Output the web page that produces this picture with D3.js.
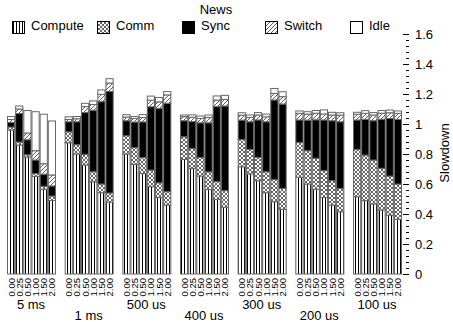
<!DOCTYPE html>
<html>
<head>
<meta charset="utf-8">
<script src="https://cdn.jsdelivr.net/npm/d3@7"></script>
<style>
  body { margin: 0; background: #fff; }
  svg { font-family: 'Liberation Sans', Arial, sans-serif; }
</style>
</head>
<body>
<svg id="chart" width="453" height="322"></svg>
<script>
const groups = ['5 ms', '1 ms', '500 us', '400 us', '300 us', '200 us', '100 us']
const ratios = ['0.00', '0.25', '0.50', '1.00', '1.50', '2.00']
const seriesNames = ['Compute', 'Comm', 'Sync', 'Switch', 'Idle']

// one row per group, one value per ratio
const compute = [
  [0.96, 0.86, 0.78, 0.65, 0.565, 0.49],
  [0.875, 0.8, 0.727, 0.615, 0.542, 0.48],
  [0.8, 0.73, 0.67, 0.582, 0.51, 0.46],
  [0.764, 0.705, 0.653, 0.563, 0.498, 0.445],
  [0.715, 0.667, 0.622, 0.542, 0.482, 0.431],
  [0.645, 0.6, 0.565, 0.511, 0.46, 0.415],
  [0.515, 0.489, 0.467, 0.427, 0.393, 0.365],
]
const comm = [
  [0.02, 0.02, 0.015, 0.02, 0.02, 0.03],
  [0.073, 0.062, 0.071, 0.067, 0.058, 0.06],
  [0.122, 0.113, 0.107, 0.111, 0.098, 0.089],
  [0.151, 0.133, 0.124, 0.118, 0.118, 0.111],
  [0.182, 0.164, 0.156, 0.14, 0.149, 0.14],
  [0.231, 0.222, 0.207, 0.178, 0.162, 0.156],
  [0.316, 0.304, 0.293, 0.278, 0.26, 0.235],
]
const sync = [
  [0.03, 0.19, 0.1, 0.09, 0.08, 0.067],
  [0.067, 0.153, 0.278, 0.41, 0.549, 0.677],
  [0.1, 0.17, 0.237, 0.422, 0.496, 0.589],
  [0.107, 0.178, 0.231, 0.327, 0.5, 0.564],
  [0.129, 0.184, 0.249, 0.333, 0.529, 0.562],
  [0.151, 0.204, 0.256, 0.338, 0.4, 0.444],
  [0.196, 0.238, 0.262, 0.327, 0.384, 0.431],
]
const swtch = [
  [0.02, 0.03, 0.045, 0.062, 0.07, 0.073],
  [0.015, 0.02, 0.04, 0.038, 0.049, 0.056],
  [0.024, 0.024, 0.029, 0.044, 0.044, 0.056],
  [0.027, 0.029, 0.029, 0.036, 0.044, 0.044],
  [0.033, 0.029, 0.033, 0.033, 0.044, 0.049],
  [0.044, 0.04, 0.044, 0.04, 0.038, 0.044],
  [0.038, 0.04, 0.038, 0.04, 0.038, 0.04],
]
const idle = [
  [0.02, 0.02, 0.15, 0.26, 0.33, 0.36],
  [0.018, 0.015, 0.022, 0.024, 0.029, 0.029],
  [0.016, 0.013, 0.02, 0.027, 0.029, 0.022],
  [0.011, 0.016, 0.016, 0.016, 0.027, 0.027],
  [0.016, 0.016, 0.016, 0.018, 0.033, 0.033],
  [0.016, 0.016, 0.018, 0.027, 0.018, 0.016],
  [0.013, 0.018, 0.016, 0.018, 0.018, 0.016],
]
const yTicks = [0, 0.2, 0.4, 0.6, 0.8, 1, 1.2, 1.4, 1.6]

const svg = d3.select('#chart')

// fill patterns
const defs = svg.append('defs')
const pCompute = defs.append('pattern').attr('id', 'pCompute')
  .attr('patternUnits', 'userSpaceOnUse').attr('width', 3).attr('height', 3)
pCompute.append('rect').attr('width', 3).attr('height', 3).attr('fill', '#fff')
pCompute.append('rect').attr('x', 1).attr('width', 1).attr('height', 3).attr('fill', '#000')

const pComm = defs.append('pattern').attr('id', 'pComm')
  .attr('patternUnits', 'userSpaceOnUse').attr('width', 4).attr('height', 4)
pComm.append('rect').attr('width', 4).attr('height', 4).attr('fill', '#fff')
pComm.append('path').attr('d', 'M0,0L4,4M4,0L0,4').attr('stroke', '#555').attr('stroke-width', 0.9)

const pSwitch = defs.append('pattern').attr('id', 'pSwitch')
  .attr('patternUnits', 'userSpaceOnUse').attr('width', 4).attr('height', 4)
pSwitch.append('rect').attr('width', 4).attr('height', 4).attr('fill', '#fff')
pSwitch.append('path').attr('d', 'M-1,1L1,-1M0,4L4,0M3,5L5,3').attr('stroke', '#333').attr('stroke-width', 0.8)

const fills = {
  Compute: 'url(#pCompute)',
  Comm: 'url(#pComm)',
  Sync: '#000',
  Switch: 'url(#pSwitch)',
  Idle: '#fff',
}

// flat table for d3.stack
const table = []
groups.forEach((g, gi) => {
  ratios.forEach((r, ri) => {
    table.push({
      group: g,
      ratio: r,
      Compute: compute[gi][ri],
      Comm: comm[gi][ri],
      Sync: sync[gi][ri],
      Switch: swtch[gi][ri],
      Idle: idle[gi][ri],
    })
  })
})
const stacked = d3.stack().keys(seriesNames)(table)

const x0 = d3.scaleBand().domain(groups).range([7, 401]).paddingInner(0.168).paddingOuter(0)
const x1 = d3.scaleBand().domain(ratios).range([0, x0.bandwidth()]).paddingInner(0.12)
const y = d3.scaleLinear().domain([0, 1.6]).range([274, 34])

// bars
const layer = svg.append('g')
stacked.forEach((s) => {
  layer.append('g')
    .selectAll('rect')
    .data(s)
    .join('rect')
    .attr('x', (d) => x0(d.data.group) + x1(d.data.ratio) + 0.5)
    .attr('y', (d) => y(d[1]))
    .attr('width', x1.bandwidth())
    .attr('height', (d) => y(d[0]) - y(d[1]))
    .attr('fill', fills[s.key])
    .attr('stroke', '#666')
    .attr('stroke-width', 1)
})

// x tick labels (rotated)
const xl = svg.append('g').attr('font-size', 9.5).attr('fill', '#000')
groups.forEach((g) => {
  ratios.forEach((r) => {
    const cx = x0(g) + x1(r) + x1.bandwidth() / 2 + 0.5
    xl.append('text')
      .attr('transform', `translate(${cx + 3.5},278) rotate(-90)`)
      .attr('text-anchor', 'end')
      .text(r)
  })
})

// group labels, staggered on two rows
svg.append('g')
  .selectAll('text')
  .data(groups)
  .join('text')
  .attr('x', (d) => x0(d) + x0.bandwidth() / 2)
  .attr('y', (d, i) => (i % 2 === 0 ? 309 : 320))
  .attr('text-anchor', 'middle')
  .attr('font-size', 13)
  .text((d) => d)

// y axis on the right, ticks pointing in
const axisX = 409
const yAxis = svg.append('g')
yAxis.selectAll('line.minor')
  .data(d3.range(0, 1.6001, 0.04))
  .join('line')
  .attr('x1', axisX - 3).attr('x2', axisX)
  .attr('y1', (d) => Math.round(y(d)) + 0.5).attr('y2', (d) => Math.round(y(d)) + 0.5)
  .attr('stroke', '#000')
yAxis.selectAll('line.major')
  .data(yTicks)
  .join('line')
  .attr('x1', axisX - 6).attr('x2', axisX)
  .attr('y1', (d) => Math.round(y(d)) + 0.5).attr('y2', (d) => Math.round(y(d)) + 0.5)
  .attr('stroke', '#000')
yAxis.selectAll('text')
  .data(yTicks)
  .join('text')
  .attr('x', 415)
  .attr('y', (d) => y(d))
  .attr('dy', '0.35em')
  .attr('font-size', 13)
  .text((d) => d3.format('~g')(d))

svg.append('text')
  .attr('transform', 'translate(449,153) rotate(-90)')
  .attr('text-anchor', 'middle')
  .attr('font-size', 13)
  .text('Slowdown')

// title + legend
svg.append('text')
  .attr('x', 216).attr('y', 14)
  .attr('text-anchor', 'middle')
  .attr('font-size', 13)
  .text('News')

const legendX = [12, 97, 182, 265, 350]
const legend = svg.append('g')
seriesNames.forEach((name, i) => {
  const lg = legend.append('g').attr('transform', `translate(${legendX[i]},19)`)
  lg.append('rect')
    .attr('x', 0.5).attr('y', 2.5)
    .attr('width', 12).attr('height', 12)
    .attr('fill', fills[name])
    .attr('stroke', '#000')
  lg.append('text')
    .attr('x', 19).attr('y', 11)
    .attr('font-size', 13)
    .text(name)
})
</script>
</body>
</html>
